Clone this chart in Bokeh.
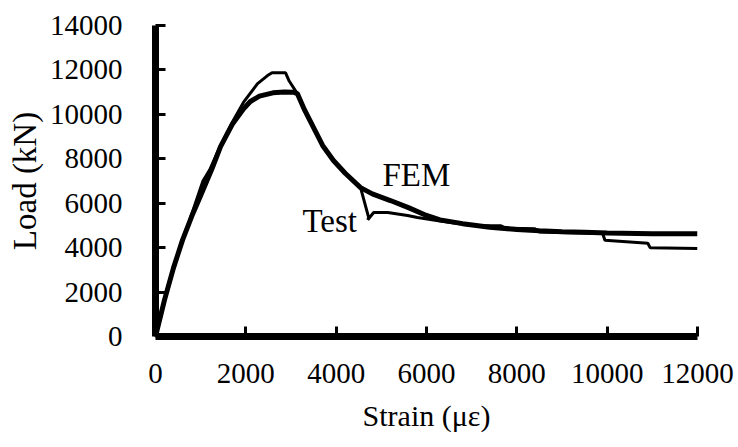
from bokeh.plotting import figure
from bokeh.models import Range1d, FixedTicker
from bokeh.core.properties import value
from bokeh.embed import file_html
from bokeh.resources import INLINE

# Strain (micro-strain) and Load (kN)
fem_strain = [0, 200, 400, 600, 800, 1000, 1250, 1440, 1700, 1950, 2100, 2300, 2600, 2850,
              3050, 3140, 3300, 3500, 3700, 3940, 4200, 4540, 4800, 5200, 5600, 6000, 6300,
              6800, 7400, 8000, 8500, 9000, 9500, 10000, 11000, 12000]
fem_load = [0, 1650, 3100, 4350, 5400, 6350, 7550, 8550, 9550, 10250, 10580, 10820, 10970, 11010,
            11000, 10935, 10200, 9400, 8600, 7920, 7350, 6700, 6420, 6120, 5800, 5450, 5250,
            5080, 4920, 4820, 4760, 4720, 4690, 4660, 4630, 4620]

test_strain = [0, 150, 350, 550, 750, 900, 1050, 1200, 1440, 1700, 1950, 2260, 2480, 2580,
               2880, 2960, 3140, 3300, 3500, 3700, 3940, 4200, 4540, 4720, 4700, 4830, 5140,
               5580, 5800, 6300, 7000, 7650, 7750, 8400, 8500, 9900, 9950, 10900, 10950, 12000]
test_load = [0, 1250, 2750, 4050, 5200, 6100, 7000, 7500, 8600, 9650, 10550, 11385, 11745, 11870,
             11870, 11500, 10935, 10200, 9400, 8600, 7920, 7350, 6700, 5350, 5250, 5580, 5580,
             5450, 5360, 5200, 5000, 4980, 4870, 4850, 4700, 4640, 4330, 4200, 4000, 3960]

x_ticks = [0, 2000, 4000, 6000, 8000, 10000, 12000]
y_ticks = [0, 2000, 4000, 6000, 8000, 10000, 12000, 14000]

label_text = ["FEM", "Test"]
label_x = [5026, 3255]
label_y = [7250, 5180]

x_title = "Strain (\u03bc\u03b5)"
y_title = "Load (kN)"

p = figure(width=738, height=447, output_backend="svg", toolbar_location=None,
           x_range=Range1d(0, 12000), y_range=Range1d(0, 14000),
           min_border_left=155, min_border_right=41, min_border_top=25, min_border_bottom=111)
p.outline_line_color = None
p.xgrid.visible = False
p.ygrid.visible = False

for ax, ticks in ((p.xaxis[0], x_ticks), (p.yaxis[0], y_ticks)):
    ax.ticker = FixedTicker(ticks=ticks)
    ax.axis_line_width = 7
    ax.axis_line_color = "black"
    ax.major_tick_in = 10
    ax.major_tick_out = 0
    ax.major_tick_line_width = 3
    ax.major_tick_line_color = "black"
    ax.minor_tick_line_color = None
    ax.major_label_text_font = "Liberation Serif"
    ax.major_label_text_font_size = "29px"
    ax.major_label_text_color = "black"
    ax.axis_label_text_font = "Liberation Serif"
    ax.axis_label_text_font_style = "normal"
    ax.axis_label_text_color = "black"

p.xaxis[0].major_label_standoff = 27
p.xaxis[0].axis_label = x_title
p.xaxis[0].axis_label_text_font_size = "30px"
p.xaxis[0].axis_label_standoff = 13

p.yaxis[0].major_label_standoff = 33
p.yaxis[0].axis_label = y_title
p.yaxis[0].axis_label_text_font_size = "33px"
p.yaxis[0].axis_label_standoff = 4

p.line(test_strain, test_load, line_color="black", line_width=3)
p.line(fem_strain, fem_load, line_color="black", line_width=5)

p.text(x=label_x, y=label_y, text=label_text, text_font=value("Liberation Serif"),
       text_font_size=value("33px"), text_baseline="alphabetic", text_align="left",
       text_color="black")

open("out.html", "w").write(file_html(p, INLINE))
